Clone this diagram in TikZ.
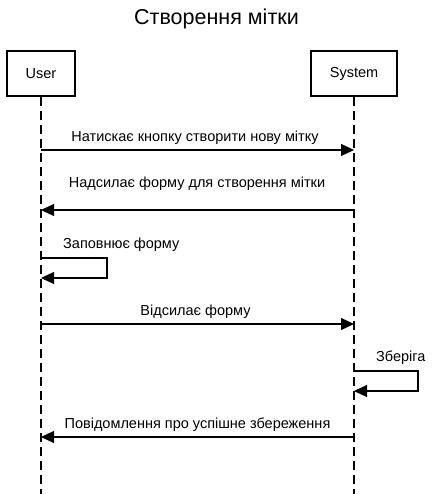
\documentclass[tikz,border=0pt]{standalone}
\usepackage{fontspec}
\setmainfont{Liberation Sans}
\usetikzlibrary{arrows.meta}
\begin{document}
\begin{tikzpicture}[x=1pt,y=-1pt,
  actor/.style={draw,line width=2.4pt,minimum width=#1,minimum height=45pt,inner sep=0pt,font=\fontsize{14.5}{17}\selectfont},
  life/.style={dashed,dash pattern=on 9pt off 5pt,line width=1.1pt},
  msg/.style={line width=1.2pt,-{Triangle[length=13pt,width=12pt]}},
  lbl/.style={font=\fontsize{14.5}{17}\selectfont,inner sep=0pt}]
\useasboundingbox (0,0) rectangle (433,494);
\node[font=\fontsize{21.5}{25}\selectfont] (title) at (216.5,19) {Створення мітки};
\node[actor=68pt] (user) at (41,73.5) {User};
\node[actor=86pt] (sys) at (354,73.5) {System};
\coordinate (ue) at (41,494);
\coordinate (se) at (354,494);
\draw[life] (user.south) -- (ue);
\draw[life] (sys.south) -- (se);
% message 1
\coordinate (u1) at (41,150); \coordinate (s1) at (354,150);
\draw[msg] (u1) -- (s1);
\node[lbl] (l1) at (195,138) {Натискає кнопку створити нову мітку};
% message 2
\coordinate (u2) at (41,210); \coordinate (s2) at (354,210);
\draw[msg] (s2) -- (u2);
\node[lbl] (l2) at (197,184) {Надсилає форму для створення мітки};
% self message user
\coordinate (u3a) at (41,258); \coordinate (u3b) at (41,278);
\draw[msg] (u3a) -- (107,258) -- (107,278) -- (u3b);
\node[lbl,anchor=west] (l3) at (63,245) {Заповнює форму};
% message 4
\coordinate (u4) at (41,324); \coordinate (s4) at (354,324);
\draw[msg] (u4) -- (s4);
\node[lbl] (l4) at (195.5,312) {Відсилає форму};
% self message system
\coordinate (s5a) at (354,371); \coordinate (s5b) at (354,391);
\draw[msg] (s5a) -- (418,371) -- (418,391) -- (s5b);
\node[lbl,anchor=west] (l5) at (376,358) {Зберіга};
% message 6
\coordinate (u6) at (41,437); \coordinate (s6) at (354,437);
\draw[msg] (s6) -- (u6);
\node[lbl] (l6) at (197.5,425) {Повідомлення про успішне збереження};
\end{tikzpicture}
\end{document}
